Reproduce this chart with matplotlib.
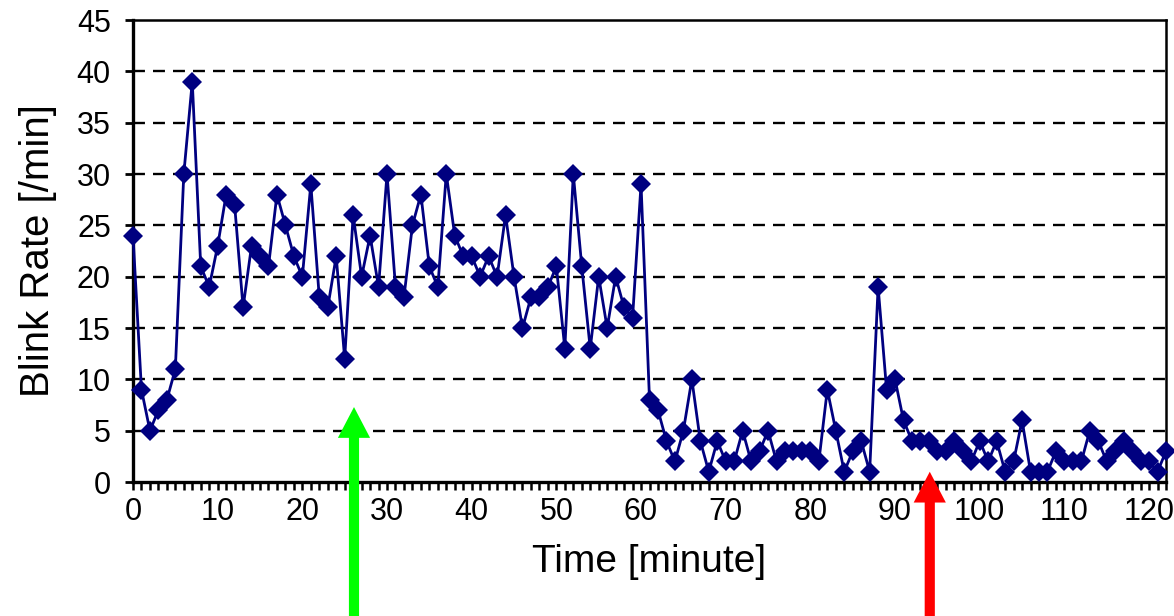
import matplotlib
matplotlib.use("Agg")
import matplotlib.pyplot as plt
from matplotlib.patches import FancyArrow

plt.rcParams['font.family'] = ['Liberation Sans', 'DejaVu Sans']
plt.rcParams['lines.scale_dashes'] = False

# one reading per minute
minutes = list(range(123))
blink_rate = [24, 9, 5, 7, 8, 11, 30, 39, 21, 19,
              23, 28, 27, 17, 23, 22, 21, 28, 25, 22,
              20, 29, 18, 17, 22, 12, 26, 20, 24, 19,
              30, 19, 18, 25, 28, 21, 19, 30, 24, 22,
              22, 20, 22, 20, 26, 20, 15, 18, 18, 19,
              21, 13, 30, 21, 13, 20, 15, 20, 17, 16,
              29, 8, 7, 4, 2, 5, 10, 4, 1, 4,
              2, 2, 5, 2, 3, 5, 2, 3, 3, 3,
              3, 2, 9, 5, 1, 3, 4, 1, 19, 9,
              10, 6, 4, 4, 4, 3, 3, 4, 3, 2,
              4, 2, 4, 1, 2, 6, 1, 1, 1, 3,
              2, 2, 2, 5, 4, 2, 3, 4, 3, 2,
              2, 1, 3]

y_ticks = list(range(0, 50, 5))
x_labels = list(range(0, 130, 10))

# event markers (minute, tip height)
arrow_minutes = [26.1, 94.1]
arrow_tips = [7.3, 1.0]
arrow_colors = ['#00ff00', '#ff0000']

fig = plt.figure(figsize=(11.74, 6.16), dpi=100)
ax = fig.add_axes([133 / 1174, 134 / 616, 1033 / 1174, 462 / 616])

for v in y_ticks[1:-1]:
    ax.axhline(v, color='black', lw=1.7, linestyle=(0, (8.6, 5.8)), zorder=1)

ax.plot(minutes, blink_rate, color='#000080', lw=2.0, marker='D', ms=10.5,
        mec='#000080', mew=0, clip_on=False, zorder=3)

ax.set_xlim(0, 122)
ax.set_ylim(0, 45)
ax.set_yticks(y_ticks)
ax.set_xticks(minutes)
ax.set_xticklabels([str(m) if m in x_labels else '' for m in minutes])

ax.tick_params(axis='x', direction='out', length=6, width=1.8, pad=5, labelsize=22)
ax.tick_params(axis='y', direction='out', length=6, width=2.0, pad=10, labelsize=22)

for side in ['left', 'bottom']:
    ax.spines[side].set_linewidth(2.4)
for side in ['right', 'top']:
    ax.spines[side].set_linewidth(1.8)

ax.set_xlabel('Time [minute]', fontsize=28, labelpad=12)
ax.set_ylabel('Blink Rate [/min]', fontsize=29, labelpad=14)

for x, tip, c in zip(arrow_minutes, arrow_tips, arrow_colors):
    base = -14
    ax.add_patch(FancyArrow(x, base, 0, tip - base, width=1.2, head_width=3.8,
                            head_length=3.0, length_includes_head=True,
                            color=c, lw=0, clip_on=False, zorder=5))

fig.savefig('out.png', dpi=100)
